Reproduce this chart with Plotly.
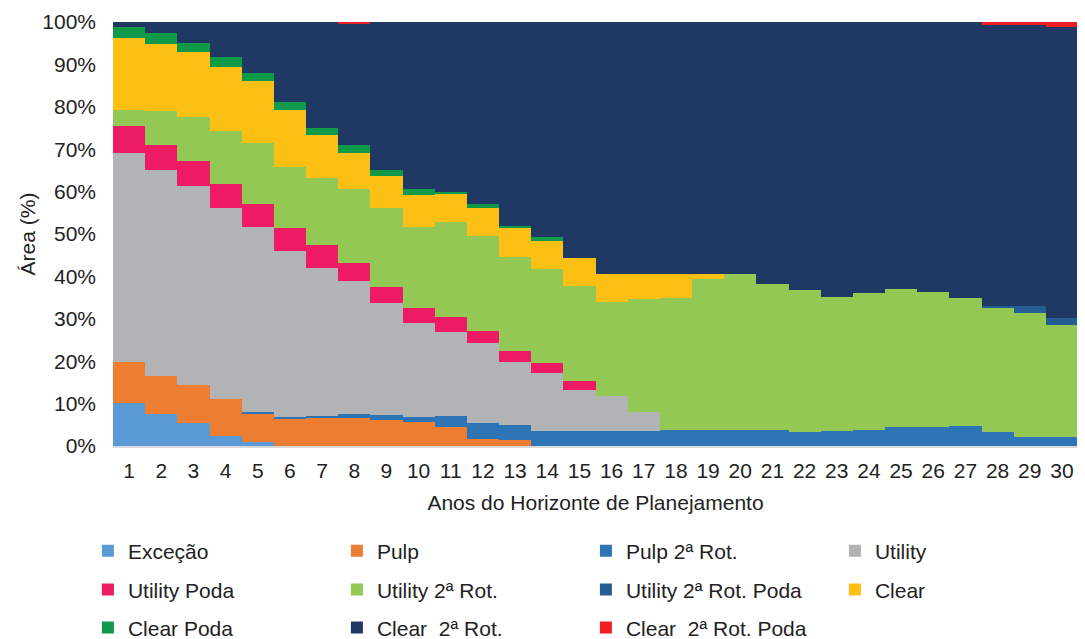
import plotly.graph_objects as go

years = list(range(1, 31))

excecao = [10.2, 7.6, 5.4, 2.3, 0.9] + [0]*25
pulp = [9.7, 8.9, 8.9, 8.8, 6.8, 6.5, 6.5, 6.5, 6.2, 5.7, 4.6, 1.7, 1.3] + [0]*17
pulp_2rot = [0, 0, 0, 0, 0.4, 0.4, 0.6, 1.1, 1.0, 1.2, 2.5, 3.8, 3.7, 3.6, 3.6,
             3.6, 3.6, 3.8, 3.7, 3.7, 3.7, 3.4, 3.5, 3.7, 4.6, 4.6, 4.8, 3.2, 2.1, 2.1]
utility = [49.1, 48.6, 47.0, 45.0, 43.5, 39.0, 35.0, 31.4, 26.6, 22.0, 19.9, 18.7,
           14.7, 13.7, 9.6, 8.2, 4.4] + [0]*13
utility_poda = [6.4, 5.9, 6.0, 5.7, 5.5, 5.5, 5.3, 4.1, 3.7, 3.6, 3.4, 3.0, 2.6,
                2.2, 2.2] + [0]*15
utility_2rot = [3.9, 7.9, 10.2, 12.6, 14.3, 14.3, 15.8, 17.5, 18.6, 19.1, 22.4,
                22.3, 22.2, 22.3, 22.3, 22.2, 26.6, 31.1, 35.6, 36.9, 34.6, 33.4,
                31.7, 32.3, 32.5, 31.7, 30.1, 29.4, 29.3, 26.4]
utility_2rot_poda = [0]*27 + [0.5, 1.6, 1.7]
clear = [16.9, 16.0, 15.4, 15.1, 14.6, 13.5, 10.1, 8.6, 7.6, 7.7, 6.7, 6.6, 6.8,
         6.6, 6.7, 6.6, 6.0, 5.7, 1.3] + [0]*11
clear_poda = [2.6, 2.4, 2.2, 2.2, 1.9, 1.9, 1.8, 1.8, 1.3, 1.2, 0.5, 0.9, 0.7,
              0.8] + [0]*16
clear_2rot = [1.2, 2.7, 4.9, 8.3, 12.1, 18.9, 24.9, 28.7, 35.0, 39.5, 40.0, 43.0,
              48.0, 50.8, 55.6, 59.4, 59.4, 59.4, 59.4, 59.4, 61.7, 63.2, 64.8,
              64.0, 62.9, 63.7, 65.1, 66.2, 66.3, 68.7]
clear_2rot_poda = [0]*7 + [0.3] + [0]*19 + [0.7, 0.7, 1.1]

y_ticks = list(range(0, 101, 10))
y_tick_labels = [f"{v}%" for v in y_ticks]

series = [
    ("Exceção", excecao, "#5B9BD5", "legend"),
    ("Pulp", pulp, "#ED7D31", "legend"),
    ("Pulp 2ª Rot.", pulp_2rot, "#2E75B6", "legend"),
    ("Utility", utility, "#B2B3B5", "legend"),
    ("Utility Poda", utility_poda, "#ED1B64", "legend2"),
    ("Utility 2ª Rot.", utility_2rot, "#92C853", "legend2"),
    ("Utility 2ª Rot. Poda", utility_2rot_poda, "#245E92", "legend2"),
    ("Clear", clear, "#FCBF14", "legend2"),
    ("Clear Poda", clear_poda, "#0E9A48", "legend3"),
    ("Clear\u00a0 2ª Rot.", clear_2rot, "#1F3864", "legend3"),
    ("Clear\u00a0 2ª Rot. Poda", clear_2rot_poda, "#EE2025", "legend3"),
]

fig = go.Figure()
for name, vals, color, leg in series:
    fig.add_trace(go.Bar(x=years, y=vals, name=name, marker_color=color,
                         marker_line_width=0, legend=leg))

font = dict(family="Liberation Sans, Arial, sans-serif", size=21, color="#222222")

def leg(yv):
    return dict(orientation="h", x=-0.026, xanchor="left", y=yv, yanchor="middle",
                entrywidth=204, entrywidthmode="pixels", font=font,
                traceorder="normal", bgcolor="rgba(0,0,0,0)")

fig.update_layout(
    width=1077, height=631,
    margin=dict(l=105, r=7, t=14, b=193, autoexpand=False),
    paper_bgcolor="white", plot_bgcolor="white",
    barmode="stack", barnorm="percent", bargap=0,
    font=font,
    showlegend=True,
    legend=leg(-0.248),
    legend2=leg(-0.339),
    legend3=leg(-0.429),
    xaxis=dict(range=[0.5, 30.5], tickmode="array", tickvals=years,
               ticktext=[str(y) for y in years], showgrid=False, zeroline=False,
               showline=True, linecolor="#D9D9D9", linewidth=2, ticks="",
               ticklabelstandoff=5,
               title=dict(text="Anos do Horizonte de Planejamento", font=font, standoff=14)),
    yaxis=dict(range=[0, 100], tickmode="array", tickvals=y_ticks, ticktext=y_tick_labels,
               showgrid=False, zeroline=False, showline=False, ticks="",
               ticklabelstandoff=16,
               title=dict(text="Área (%)", font=font, standoff=0)),
)

fig.write_html("out.html")
